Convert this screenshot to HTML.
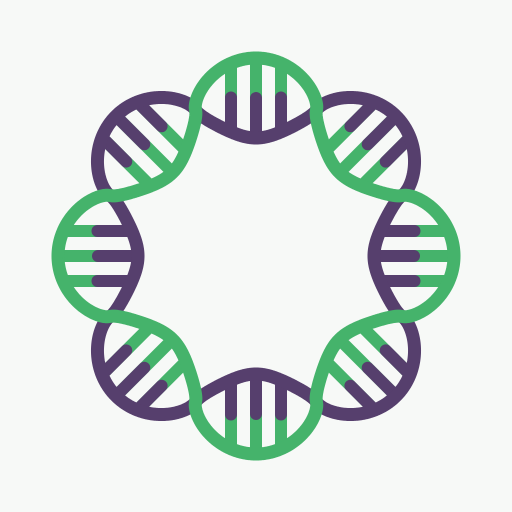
<!DOCTYPE html>
<html><head><meta charset="utf-8"><style>
html,body{margin:0;padding:0;background:#f7f9f7;}
svg{display:block;}
</style></head><body>
<svg id="logo" width="512" height="512" viewBox="0 0 512 512"></svg>
<script>
const ringParams = [158, 40]; // mean radius, amplitude
const lobeAngles = [-90, -45, 0, 45, 90, 135, 180, 225];
const rungOffsets = [-25, 0, 25];
const GREEN = '#45b36b', PURPLE = '#563f6d';
const cx = 256, cy = 256, NS = 'http://www.w3.org/2000/svg';
const svg = document.getElementById('logo');
function wave(th){ const c = Math.cos(4*(th + Math.PI/2)); return Math.sign(c)*Math.pow(Math.abs(c),0.68); }
function rG(th){ return ringParams[0] + ringParams[1]*wave(th); }
function rP(th){ return ringParams[0] - ringParams[1]*wave(th); }
function line(x1,y1,x2,y2,col,w,name){
  const l = document.createElementNS(NS,'line');
  l.setAttribute('x1',x1);l.setAttribute('y1',y1);l.setAttribute('x2',x2);l.setAttribute('y2',y2);
  l.setAttribute('stroke',col);l.setAttribute('stroke-width',w);l.setAttribute('stroke-linecap','round');
  
  
  svg.appendChild(l);
}
lobeAngles.forEach((deg, li) => {
  const phi = deg*Math.PI/180, ux = Math.cos(phi), uy = Math.sin(phi), vx = -uy, vy = ux;
  const greenOuter = (li % 2 === 0);
  rungOffsets.forEach(d => {
    let tIn = null, tOut = null;
    for (let t = 60; t < 230; t += 0.25) {
      const x = t*ux + d*vx, y = t*uy + d*vy;
      const r = Math.hypot(x,y), th = Math.atan2(y,x);
      const lo = Math.min(rG(th), rP(th)), hi = Math.max(rG(th), rP(th));
      if (r >= lo && r <= hi) { if (tIn === null) tIn = t; tOut = t; }
    }
    if (tIn === null) return;
    const P = t => [cx + t*ux + d*vx, cy + t*uy + d*vy];
    const a = P(tIn), b = P(tOut), m = P((tIn+tOut)/2);
    line(a[0],a[1],b[0],b[1],GREEN,12,'rung-green');
    if (greenOuter) line(a[0],a[1],m[0],m[1],PURPLE,12,'rung-purple');
    else line(m[0],m[1],b[0],b[1],PURPLE,12,'rung-purple');
  });
});
function strand(fn,col,name){
  let d = '';
  for (let i = 0; i <= 1440; i++) {
    const th = i/1440*2*Math.PI, r = fn(th);
    d += (i ? 'L' : 'M') + (cx + r*Math.cos(th)).toFixed(2) + ' ' + (cy + r*Math.sin(th)).toFixed(2);
  }
  const p = document.createElementNS(NS,'path');
  p.setAttribute('d', d + 'Z'); p.setAttribute('fill','none');
  p.setAttribute('stroke', col); p.setAttribute('stroke-width', 13);
  p.setAttribute('stroke-linejoin', 'round');
  
  
  svg.appendChild(p);
}
strand(rP, PURPLE, 'purple-strand');
strand(rG, GREEN, 'green-strand');
</script>
</body></html>
